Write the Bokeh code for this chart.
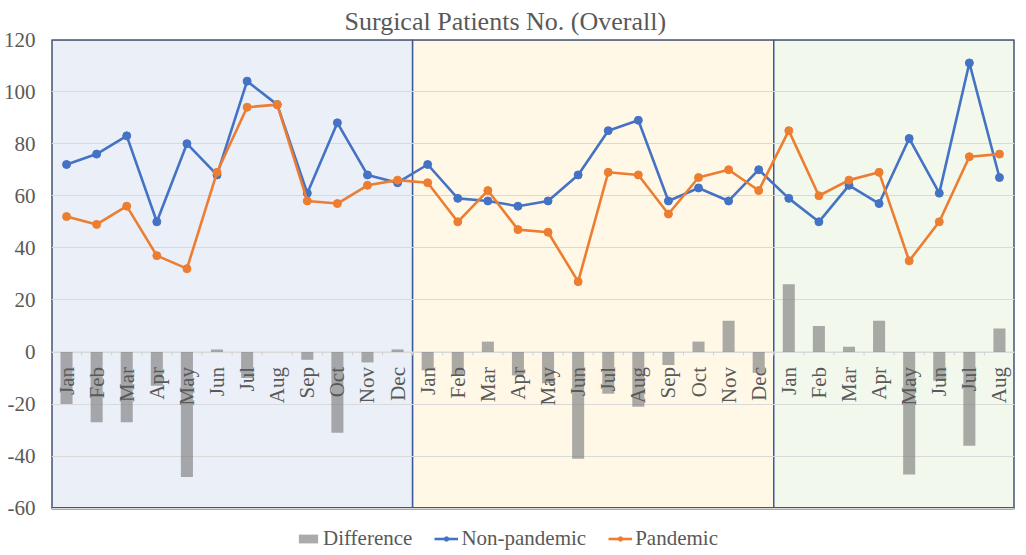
from bokeh.plotting import figure
from bokeh.models import Legend, LegendItem, FixedTicker, Title
from bokeh.core.properties import value
from bokeh.embed import file_html
from bokeh.resources import INLINE

month_names = ["Jan", "Feb", "Mar", "Apr", "May", "Jun", "Jul", "Aug", "Sep", "Oct", "Nov", "Dec"]
section_lengths = [12, 12, 8]
months = month_names * 2 + month_names[:8]

non_pandemic = [72, 76, 83, 50, 80, 68, 104, 95, 61, 88, 68, 65,
                72, 59, 58, 56, 58, 68, 85, 89, 58, 63, 58, 70,
                59, 50, 64, 57, 82, 61, 111, 67]
pandemic = [52, 49, 56, 37, 32, 69, 94, 95, 58, 57, 64, 66,
            65, 50, 62, 47, 46, 27, 69, 68, 53, 67, 70, 62,
            85, 60, 66, 69, 35, 50, 75, 76]
difference = [-20, -27, -27, -13, -48, 1, -10, 0, -3, -31, -4, 1,
              -7, -9, 4, -9, -12, -41, -16, -21, -5, 4, 12, -8,
              26, 10, 2, 12, -47, -11, -36, 9]
y_ticks = [-60, -40, -20, 0, 20, 40, 60, 80, 100, 120]
y_tick_labels = ["-60", "-40", "-20", "0", "20", "40", "60", "80", "100", "120"]

section_fills = ["#EAEFF8", "#FFF8E7", "#F2F8EC"]
FONT = "Liberation Serif"
GRAY_TXT = "#595959"

n = len(months)
xs = list(range(n))
y_min, y_max = y_ticks[0], y_ticks[-1]

# extra room under the value axis for the legend, inside the frame
p = figure(width=1018, height=551, x_range=(-0.5, n - 0.5), y_range=(y_min - 16.6, y_max),
           output_backend="svg", toolbar_location=None, x_axis_location=None,
           min_border=0, min_border_left=43, min_border_right=4, min_border_top=37,
           min_border_bottom=0)
p.add_layout(Title(text="Surgical Patients No. (Overall)", align="left", offset=293,
                   text_font=FONT, text_font_size="26px", text_font_style="normal",
                   text_color=GRAY_TXT, standoff=8), "above")

# section backgrounds
lefts, rights = [], []
start = -0.5
for L in section_lengths:
    lefts.append(start)
    rights.append(start + L)
    start += L
p.quad(left=lefts, right=rights, bottom=y_min, top=y_max, fill_color=section_fills,
       line_color="#3A5A9C", line_width=1.5, level="image")
p.quad(left=[lefts[0]], right=[rights[-1]], bottom=[y_min], top=[y_max], fill_color=None,
       line_color="#4A5670", line_width=2.4, level="image")

p.xgrid.visible = False
p.ygrid.grid_line_color = "#D9D9D9"
p.ygrid.grid_line_width = 1
p.yaxis.ticker = FixedTicker(ticks=y_ticks)
p.yaxis.major_label_overrides = {t: s for t, s in zip(y_ticks, y_tick_labels)}
p.yaxis.axis_line_color = None
p.yaxis.major_tick_line_color = None
p.yaxis.minor_tick_line_color = None
p.yaxis.major_label_text_font = FONT
p.yaxis.major_label_text_font_size = "21px"
p.yaxis.major_label_text_color = GRAY_TXT
p.yaxis.major_label_standoff = 10
p.outline_line_color = None
p.background_fill_color = "white"
p.border_fill_color = "white"

# zero axis line and ticks
p.segment(x0=[-0.5], x1=[n - 0.5], y0=[0], y1=[0], line_color="#D9D9D9", line_width=1.2)
bx = [i + 0.5 for i in range(n - 1)]
p.segment(x0=bx, x1=bx, y0=[0] * len(bx), y1=[-1.3] * len(bx), line_color="#D0D0D0", line_width=1)

bars = p.vbar(x=xs, top=difference, bottom=0, width=0.4, fill_color="#7F7F7F",
              fill_alpha=0.66, line_color=None)

# month labels
p.text(x=xs, y=[0] * n, text=months, angle=1.5708, text_align="right", text_baseline="middle",
       y_offset=15, text_font=value(FONT), text_font_size="21px", text_color=GRAY_TXT)

np_line = p.line(xs, non_pandemic, line_color="#4472C4", line_width=2.6)
np_pts = p.scatter(xs, non_pandemic, size=8, fill_color="#4472C4", line_color="#4472C4")
pd_line = p.line(xs, pandemic, line_color="#ED7D31", line_width=2.6)
pd_pts = p.scatter(xs, pandemic, size=8, fill_color="#ED7D31", line_color="#ED7D31")

legend = Legend(items=[LegendItem(label="Difference", renderers=[bars]),
                       LegendItem(label="Non-pandemic", renderers=[np_line, np_pts]),
                       LegendItem(label="Pandemic", renderers=[pd_line, pd_pts])],
                orientation="horizontal", location=(245, 0),
                glyph_width=24, glyph_height=11, label_standoff=3, spacing=22,
                padding=0, margin=0, border_line_color=None, background_fill_alpha=0)
legend.label_text_font = FONT
legend.label_text_font_size = "21px"
legend.label_text_color = GRAY_TXT
p.add_layout(legend, "center")

open("out.html", "w").write(file_html(p, INLINE))
